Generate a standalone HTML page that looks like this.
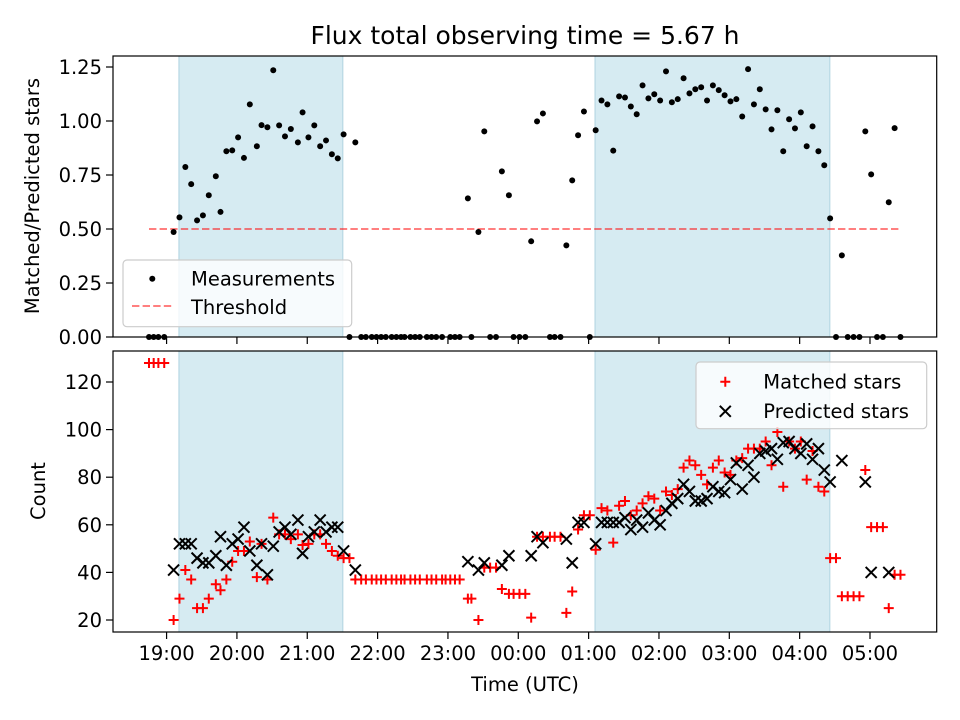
<!DOCTYPE html>
<html><head><meta charset="utf-8">
<style>
html,body{margin:0;padding:0;background:#fff;}
svg{display:block;font-family:"DejaVu Sans","Liberation Sans",sans-serif;}
</style></head>
<body>
<svg id="chart" width="960" height="720" viewBox="0 0 960 720"></svg>
<script>
// ---- data (minutes since 19:00 UTC) ----
const ratioT = [-15,-11,-7,-2,6,11,16,21,26,31,36,42,46,51,56,61,66,71,77,81,86,91,96,101,106,112,116,121,126,131,136,141,146,151,156,161,
166,170,175,179,183,187,192,196,200,203,208,212,216,222,226,230,235,242,246,250,257,260,266,271,276,281,286,292,296,301,306,311,316,321,327,331,336,341,346,351,356,361,
366,371,376,381,386,391,396,401,406,411,416,421,426,431,436,441,446,451,456,461,466,471,476,481,486,491,496,501,506,511,516,521,526,531,536,541,546,551,556,561,566,571,576,581,586,591,596,601,606,611,616,621,626];
const ratioV = [0,0,0,0,0.486,0.554,0.787,0.708,0.540,0.563,0.656,0.744,0.579,0.860,0.864,0.924,0.829,1.077,0.883,0.981,0.971,1.235,0.980,0.929,0.963,0.901,1.040,0.924,0.980,0.883,0.910,0.846,0.827,0.938,0,0.901,
0,0,0,0,0,0,0,0,0,0,0,0,0,0,0,0,0,0,0,0,0.642,0,0.486,0.952,0,0,0.767,0.656,0,0,0,0.443,0.998,1.035,0,0,0,0.424,0.725,0.934,1.044,0,
0.957,1.095,1.077,0.863,1.114,1.109,1.067,1.031,1.165,1.105,1.124,1.095,1.230,1.087,1.101,1.198,1.128,1.147,1.156,1.095,1.165,1.143,1.119,1.091,1.101,1.021,1.240,1.077,1.147,1.054,0.961,1.050,0.860,1.008,0.966,1.040,0.883,0.975,0.860,0.795,0.549,0,0.378,0,0,0,0.952,0.753,0,0,0.624,0.967,0];
const matchedT = [-15,-11,-7,-2,6,11,16,21,26,31,36,42,46,51,56,61,66,71,77,81,86,91,96,101,106,112,116,121,126,131,136,141,146,151,156,
161,166,170,175,179,183,187,192,196,200,203,208,212,216,222,226,230,235,238,242,246,250,
257,260,266,271,276,281,286,292,296,301,306,311,316,321,327,331,336,341,346,351,356,361,366,371,376,381,386,391,396,401,406,411,416,421,426,431,436,441,446,451,456,461,466,471,476,481,486,491,496,501,506,511,516,521,526,531,536,541,546,551,556,561,566,571,576,581,586,591,596,601,606,611,616,621,626];
const matchedV = [128,128,128,128,20,29,41,37,25,25,29,35,32.5,37,44.5,49,49,53,38,52,37,63,56,56,54,56,51.5,52,56,56,52,49,47,46,46,
37,37,37,37,37,37,37,37,37,37,37,37,37,37,37,37,37,37,37,37,37,37,
29,29,20,42,42,42,33,31,31,31,31,21,55,55,55,55,55,23,32,58,64,64,49.5,67,66,52.5,68,70,64,66,69,72,71,66,74,72.5,75,84,87,85,81,77,84,87,82,81,87,88,92,92,92,95,85,99,76,95,92,95,79,91,76,74,46,46,30,30,30,30,83,59,59,59,25,39,39];
const predT = [6,11,16,21,26,31,36,42,46,51,56,61,66,71,77,81,86,91,96,101,106,112,116,121,126,131,136,141,146,151,161,
257,266,271,286,292,311,316,321,341,346,351,356,366,371,376,381,386,391,396,401,406,411,416,421,426,431,436,441,446,451,456,461,466,471,476,481,486,491,496,501,506,511,516,521,526,531,536,541,546,551,556,561,566,576,596,601,616,621];
const predV = [41,52,52,52,46,44,44,47,55,43,52,54,59,49,43,52,39,51,57,59,56,62,48,55,57,62,57,59,59,49,41,
44.5,41,44,43,47,47,55,52.5,54,44,61,61,52,61,61,61,61,63,58,62,59,65,62,60,66,69,71,77,74,70,70,71,76,74,73.5,79,86,75,85,80,90,91,92,87.5,94.5,95,92,90,94,87.5,92,83,78,87,78,40,40];
const spans = [[10.5,150.4],[365.4,565.8]];
const threshold = 0.5;
const topTicks = [0,0.25,0.5,0.75,1.0,1.25];
const botTicks = [20,40,60,80,100,120];
const hourTicks = [0,1,2,3,4,5,6,7,8,9,10];
const hourLabels = ["19:00","20:00","21:00","22:00","23:00","00:00","01:00","02:00","03:00","04:00","05:00"];

// ---- scales ----
const AX_L=113, AX_R=936.7, T_TOP=56, T_BOT=337, B_TOP=351, B_BOT=632;
const X_MIN=-45.7, X_MAX=656.9;
const xS = m => AX_L + (m - X_MIN) / (X_MAX - X_MIN) * (AX_R - AX_L);
const yTop = v => T_BOT - v * 216;
const yBot = v => 620 - (v - 20) * 2.38;

const NS="http://www.w3.org/2000/svg";
const svg=document.getElementById('chart');
function mk(tag, attrs, parent){const e=document.createElementNS(NS,tag);for(const k in attrs)e.setAttribute(k,attrs[k]);(parent||svg).appendChild(e);return e;}

const panels=[{top:T_TOP,bot:T_BOT,name:'top'},{top:B_TOP,bot:B_BOT,name:'bottom'}];
panels.forEach(p=>{
  spans.forEach((s,i)=>{
    const r=mk('rect',{x:xS(s[0]),y:p.top,width:xS(s[1])-xS(s[0]),height:p.bot-p.top,fill:'rgba(173,216,230,0.5)',stroke:'rgba(140,190,210,0.6)','stroke-width':1});
    
    
  });
});

const th=mk('line',{x1:xS(ratioT[0]),x2:xS(ratioT[ratioT.length-1]),y1:yTop(threshold),y2:yTop(threshold),stroke:'rgba(255,0,0,0.5)','stroke-width':2,'stroke-dasharray':'7.4,3.2'});



ratioT.forEach((t,i)=>{
  const c=mk('circle',{cx:xS(t),cy:yTop(ratioV[i]),r:3,fill:'#000'});
  
  
});
matchedT.forEach((t,i)=>{
  const x=xS(t), y=yBot(matchedV[i]);
  const g=mk('path',{d:`M${x-5},${y}H${x+5}M${x},${y-5}V${y+5}`,stroke:'#ff0000','stroke-width':2,fill:'none'});
  
  
});
predT.forEach((t,i)=>{
  const x=xS(t), y=yBot(predV[i]);
  const g=mk('path',{d:`M${x-5.5},${y-5.5}L${x+5.5},${y+5.5}M${x-5.5},${y+5.5}L${x+5.5},${y-5.5}`,stroke:'#000','stroke-width':2,fill:'none'});
  
  
});

panels.forEach(p=>{
  const f=mk('rect',{x:AX_L,y:p.top,width:AX_R-AX_L,height:p.bot-p.top,fill:'none',stroke:'#000','stroke-width':1.2});
  
  
  hourTicks.forEach((h,i)=>{
    const x=xS(h*60);
    const tk=mk('line',{x1:x,x2:x,y1:p.bot,y2:p.bot+7,stroke:'#000','stroke-width':1.2});
    
    
    if(p.name==='bottom'){
      const tl=mk('text',{x:x,y:p.bot+28,'font-size':19.5,'text-anchor':'middle',fill:'#000'});
      tl.textContent=hourLabels[i];
      
      
    }
  });
});
topTicks.forEach(v=>{
  const y=yTop(v);
  const tk=mk('line',{x1:AX_L-7,x2:AX_L,y1:y,y2:y,stroke:'#000','stroke-width':1.2});
  
  
  const tl=mk('text',{x:AX_L-11,y:y+7,'font-size':19.5,'text-anchor':'end',fill:'#000'});
  tl.textContent=v.toFixed(2);
  
  
});
botTicks.forEach(v=>{
  const y=yBot(v);
  const tk=mk('line',{x1:AX_L-7,x2:AX_L,y1:y,y2:y,stroke:'#000','stroke-width':1.2});
  
  
  const tl=mk('text',{x:AX_L-11,y:y+7,'font-size':19.5,'text-anchor':'end',fill:'#000'});
  tl.textContent=String(v);
  
  
});
</script>
<svg width="960" height="720" style="position:absolute;left:0;top:0;font-family:'DejaVu Sans','Liberation Sans',sans-serif">
  <text x="525" y="44" font-size="25" text-anchor="middle">Flux total observing time = 5.67 h</text>
  <text x="525" y="691" font-size="19.5" text-anchor="middle">Time (UTC)</text>
  <text transform="translate(39,196) rotate(-90)" font-size="19.5" text-anchor="middle">Matched/Predicted stars</text>
  <text transform="translate(45,491) rotate(-90)" font-size="19.5" text-anchor="middle">Count</text>
  <g>
    <rect x="123" y="260" width="228.7" height="66.7" rx="4" fill="rgba(255,255,255,0.8)" stroke="#ccc" stroke-width="1.2"/>
    <circle cx="152.3" cy="278.7" r="3" fill="#000"/>
    <text x="191" y="285.5" font-size="19.5">Measurements</text>
    <line x1="132" x2="174" y1="306" y2="306" stroke="rgba(255,0,0,0.5)" stroke-width="2" stroke-dasharray="7.4,3.2"/>
    <text x="191" y="314" font-size="19.5">Threshold</text>
  </g>
  <g>
    <rect x="696" y="362" width="230.7" height="66.7" rx="4" fill="rgba(255,255,255,0.8)" stroke="#ccc" stroke-width="1.2"/>
    <path d="M720.3,381.7H730.3M725.3,376.7V386.7" stroke="#f00" stroke-width="2"/>
    <text x="763.3" y="388.5" font-size="19.5">Matched stars</text>
    <path d="M719.8,405.8L730.8,416.8M719.8,416.8L730.8,405.8" stroke="#000" stroke-width="2"/>
    <text x="763.3" y="418" font-size="19.5">Predicted stars</text>
  </g>
</svg>
</body></html>
